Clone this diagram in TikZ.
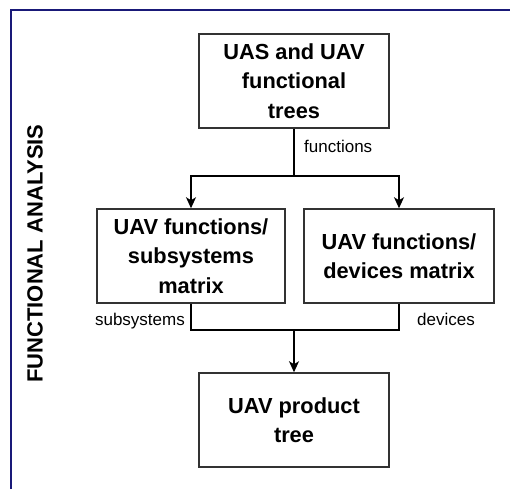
\documentclass[tikz,border=0pt]{standalone}
\usepackage{fontspec}
\setmainfont{Liberation Sans}
\usetikzlibrary{arrows.meta}
\definecolor{framenavy}{RGB}{25,25,120}
\definecolor{boxgray}{RGB}{50,50,50}
\begin{document}
\begin{tikzpicture}[x=1pt,y=-1pt,
  block/.style={draw=boxgray,line width=1.5pt,fill=white,minimum width=190pt,
    minimum height=94pt,inner sep=0pt,align=center,
    font=\fontsize{21.8}{29.5}\selectfont\bfseries},
  flow/.style={draw=black,line width=1.4pt},
  tip/.style={-{Stealth[length=11pt,width=10pt,inset=3pt]}},
  lbl/.style={font=\fontsize{17}{20}\selectfont,inner sep=0pt}]
  \useasboundingbox (0,0) rectangle (510,489);
  \fill[white] (0,0) rectangle (510,489);

  % section frame
  \draw[framenavy,line width=1.8pt] (11,489) -- (11,10) -- (510,10);
  \node[rotate=90,inner sep=0pt,font=\fontsize{22}{24}\selectfont\bfseries] (title) at (35,253.5) {FUNCTIONAL ANALYSIS};

  % blocks
  \node[block] (trees) at (294,81) {UAS and UAV\\functional\\trees};
  \node[block,minimum width=188pt] (subsys) at (191,256) {UAV functions/\\subsystems\\matrix};
  \node[block] (devices) at (399,256) {UAV functions/\\devices matrix};
  \node[block] (product) at (294,420) {UAV product\\tree};

  % split of functions
  \coordinate (split) at (294,176);
  \draw[flow] (trees.south) -- (split);
  \draw[flow,tip] (split) -| (subsys.north);
  \draw[flow,tip] (split) -| (devices.north);
  \node[lbl,anchor=base west] (lfun) at (304,152.5) {functions};

  % merge into product tree
  \coordinate (merge) at (294,330);
  \draw[flow] (subsys.south) |- (merge) -| (devices.south);
  \draw[flow,tip] (merge) -- (product.north);
  \node[lbl,anchor=base east] (lsub) at (185,325.5) {subsystems};
  \node[lbl,anchor=base west] (ldev) at (417,325.5) {devices};
\end{tikzpicture}
\end{document}
